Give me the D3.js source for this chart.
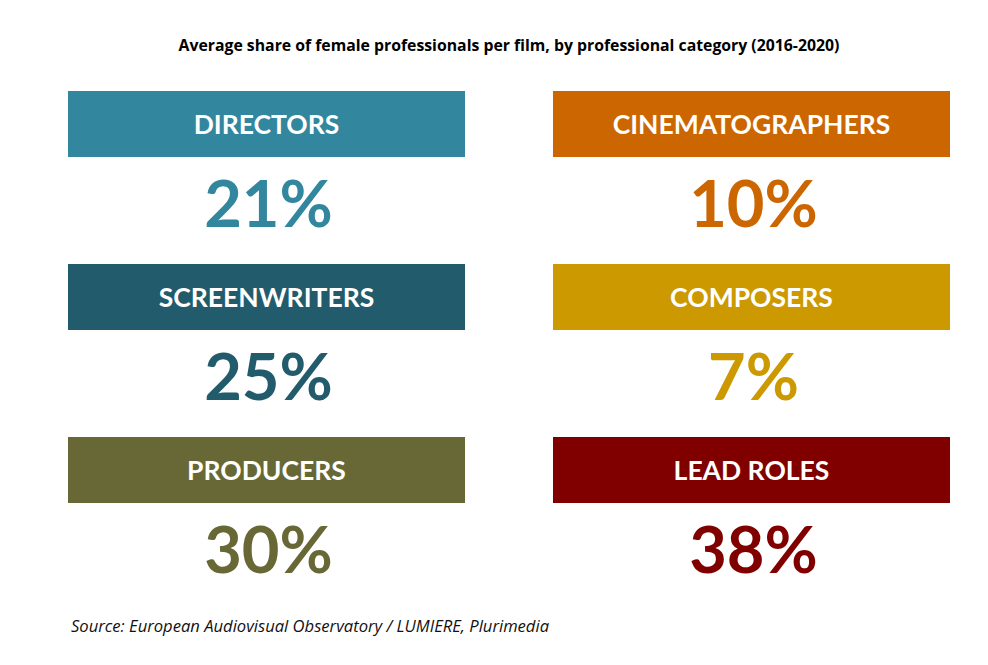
<!DOCTYPE html>
<html>
<head>
<meta charset="utf-8">
<script src="https://cdn.jsdelivr.net/npm/d3@7"></script>
<style>
  body { margin: 0; background: #fff; }
  svg { display: block; font-family: Lato, "Noto Sans", sans-serif; }
</style>
</head>
<body>
<div id="chart"></div>
<script>
// values
const categories = ['DIRECTORS', 'CINEMATOGRAPHERS', 'SCREENWRITERS', 'COMPOSERS', 'PRODUCERS', 'LEAD ROLES']
const shares = [21, 10, 25, 7, 30, 38]
const colors = ['#32869e', '#cc6600', '#225b6b', '#cc9900', '#676835', '#800000']

const title = 'Average share of female professionals per film, by professional category (2016-2020)'
const source = 'Source: European Audiovisual Observatory / LUMIERE, Plurimedia'

const w = 988, h = 665

const cards = categories.map((c, i) => ({
  name: c,
  value: shares[i],
  color: colors[i],
  col: i % 2,
  row: Math.floor(i / 2)
}))

const svg = d3.select('#chart')
  .append('svg')
  .attr('width', w)
  .attr('height', h)

const x = d3.scaleBand()
  .domain([0, 1])
  .range([68, 950])
  .paddingInner(0.1814)

const y = d3.scaleBand()
  .domain([0, 1, 2])
  .range([91, 610])

const boxH = 66

svg.append('text')
  .attr('x', (68 + 950) / 2)
  .attr('y', 51)
  .attr('text-anchor', 'middle')
  .attr('font-family', '"Open Sans", sans-serif')
  .attr('font-size', 15.8)
  .attr('font-weight', 'bold')
  .attr('fill', '#000')
  .text(title)

const card = svg.selectAll('g.card')
  .data(cards)
  .enter()
  .append('g')
    .attr('class', 'card')
    .attr('transform', d => 'translate(' + x(d.col) + ',' + y(d.row) + ')')

card.append('rect')
  .attr('width', x.bandwidth())
  .attr('height', boxH)
  .attr('fill', d => d.color)

card.append('text')
  .attr('x', x.bandwidth() / 2)
  .attr('y', 43)
  .attr('text-anchor', 'middle')
  .attr('font-size', 26.5)
  .attr('font-weight', 'bold')
  .attr('fill', '#fff')
  .text(d => d.name)

card.append('text')
  .attr('x', x.bandwidth() / 2 + 2)
  .attr('y', 136)
  .attr('text-anchor', 'middle')
  .attr('font-size', 65)
  .attr('font-weight', 'bold')
  .attr('fill', d => d.color)
  .text(d => d.value + '%')

svg.append('text')
  .attr('x', 71)
  .attr('y', 632)
  .attr('font-family', '"Open Sans", sans-serif')
  .attr('font-size', 16.6)
  .attr('font-style', 'italic')
  .attr('fill', '#111')
  .text(source)
</script>
</body>
</html>
